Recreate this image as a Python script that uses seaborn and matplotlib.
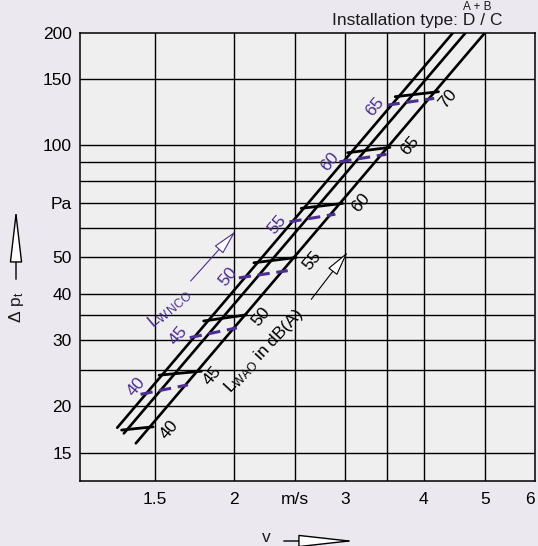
import matplotlib
matplotlib.use("Agg")
import matplotlib.pyplot as plt
from matplotlib.ticker import NullLocator, FixedLocator
import numpy as np
import pandas as pd
import seaborn as sns

# ---------------- data ----------------
# three characteristic lines (installation types)
line_ids = ["left", "left", "middle", "middle", "right", "right"]
line_v = [1.308, 4.45, 1.34, 4.66, 1.40, 5.0]
line_dp = [17.5, 200, 16.9, 200, 15.9, 200]

# L_WAO rungs (black, solid)
wa_levels = [40, 45, 50, 55, 60, 65, 70]
wa_v0 = [1.329, 1.524, 1.793, 2.153, 2.558, 3.030, 3.604]
wa_p0 = [17.25, 24.2, 33.8, 48.4, 67.7, 95.4, 134.8]
wa_v1 = [1.491, 1.778, 2.094, 2.512, 2.975, 3.535, 4.220]
wa_p1 = [17.6, 24.8, 35.1, 50.0, 69.8, 98.6, 139.0]
wa_lab_v = [1.584, 1.852, 2.214, 2.665, 3.185, 3.806, 4.372]
wa_lab_p = [17.25, 24.1, 34.8, 48.9, 70.0, 99.4, 132.9]

# L_WNCO rungs (purple, dashed)
nc_levels = [40, 45, 50, 55, 60, 65]
nc_v0 = [1.424, 1.704, 2.038, 2.451, 2.940, 3.505]
nc_p0 = [21.5, 30.5, 44.1, 62.3, 90.2, 128.0]
nc_v1 = [1.693, 2.024, 2.436, 2.897, 3.492, 4.154]
nc_p1 = [22.8, 32.4, 46.1, 65.3, 94.5, 133.4]
nc_lab_v = [1.400, 1.637, 1.956, 2.347, 2.845, 3.352]
nc_lab_p = [22.6, 30.8, 44.3, 61.1, 90.1, 126.5]

# axes
x_ticks = [1.5, 2, 2.5, 3, 4, 5, 6]
x_tick_labels = ["1.5", "2", "m/s", "3", "4", "5", "6"]
y_ticks = [15, 20, 30, 40, 50, 70, 100, 150, 200]
y_tick_labels = ["15", "20", "30", "40", "50", "Pa", "100", "150", "200"]
x_grid = [1.5, 2, 2.5, 3, 3.5, 4, 5]
y_grid = [15, 20, 25, 30, 35, 40, 50, 60, 70, 80, 90, 100, 150]

PURPLE = "#4B2E8F"
FS = 12.5

# ---------------- figure ----------------
sns.set_theme(style="white")
plt.rcParams["font.family"] = ["Liberation Sans", "DejaVu Sans"]
plt.rcParams["mathtext.fontset"] = "custom"
plt.rcParams["mathtext.rm"] = "Liberation Sans"
plt.rcParams["mathtext.it"] = "Liberation Sans"

fig = plt.figure(figsize=(5.38, 5.46), dpi=100, facecolor="#ECE8EF")
ax = fig.add_axes([80 / 538, 1 - 481 / 546, (535 - 80) / 538, (481 - 32.7) / 546])
ax.set_facecolor("#EFEFEF")
ax.set_xscale("log")
ax.set_yscale("log")
ax.set_xlim(1.142, 6.0)
ax.set_ylim(12.6, 200)

for gx in x_grid:
    ax.axvline(gx, color="black", lw=1.0, zorder=1)
for gy in y_grid:
    ax.axhline(gy, color="black", lw=1.0, zorder=1)

df_lines = pd.DataFrame({"id": line_ids, "v": line_v, "dp": line_dp})
sns.lineplot(data=df_lines, x="v", y="dp", units="id", estimator=None,
             color="black", lw=1.9, ax=ax, zorder=3)

df_wa = pd.DataFrame({
    "level": wa_levels * 2,
    "v": wa_v0 + wa_v1,
    "dp": wa_p0 + wa_p1,
})
sns.lineplot(data=df_wa, x="v", y="dp", units="level", estimator=None,
             color="black", lw=2.0, ax=ax, zorder=3)

df_nc = pd.DataFrame({
    "level": nc_levels * 2,
    "v": nc_v0 + nc_v1,
    "dp": nc_p0 + nc_p1,
})
n_before = len(ax.lines)
sns.lineplot(data=df_nc, x="v", y="dp", units="level", estimator=None,
             color=PURPLE, lw=2.2, ax=ax, zorder=4)
for ln in ax.lines[n_before:]:
    ln.set_dashes((4, 2.2))

for lvl, lv, lp in zip(wa_levels, wa_lab_v, wa_lab_p):
    ax.text(lv, lp, str(lvl), rotation=50, ha="center", va="center",
            fontsize=FS, color="black", zorder=5)
for lvl, lv, lp in zip(nc_levels, nc_lab_v, nc_lab_p):
    ax.text(lv, lp, str(lvl), rotation=50, ha="center", va="center",
            fontsize=FS, color=PURPLE, zorder=5)

# annotations
ax.text(1.584, 36.6, r"L$_{\mathrm{W\,NCO}}$", rotation=40, ha="center", va="center",
        fontsize=FS, color=PURPLE, zorder=5)
ax.annotate("", xy=(2.026, 59.5), xytext=(1.698, 42.7),
            arrowprops=dict(arrowstyle="-|>,head_length=1.3,head_width=0.3",
                            color=PURPLE, lw=0.8, fc="white"), zorder=5)
ax.text(2.229, 28.1, r"L$_{\mathrm{WAO}}$ in dB(A)", rotation=47, ha="center", va="center",
        fontsize=FS, color="black", zorder=5)
ax.annotate("", xy=(3.049, 52.4), xytext=(2.637, 38.1),
            arrowprops=dict(arrowstyle="-|>,head_length=1.3,head_width=0.3",
                            color="black", lw=0.8, fc="white"), zorder=5)

ax.xaxis.set_major_locator(FixedLocator(x_ticks))
ax.xaxis.set_minor_locator(NullLocator())
ax.set_xticklabels(x_tick_labels)
ax.get_xticklabels()[-1].set_horizontalalignment("right")
ax.yaxis.set_major_locator(FixedLocator(y_ticks))
ax.yaxis.set_minor_locator(NullLocator())
ax.set_yticklabels(y_tick_labels)
ax.tick_params(axis="both", length=0, labelsize=FS, colors="black")
ax.tick_params(axis="x", pad=8)
ax.tick_params(axis="y", pad=6)
ax.set_xlabel("")
ax.set_ylabel("")
for s in ax.spines.values():
    s.set_color("black")
    s.set_linewidth(1.1)

# titles and axis labels outside the axes
fig.text(503 / 538, 1 - 21 / 546, "Installation type: D / C", ha="right", va="center",
         fontsize=FS, color="#1a1a1a")
fig.text(477 / 538, 1 - 1 / 546, "A + B", ha="center", va="top",
         fontsize=FS * 0.68, color="#1a1a1a")

fig.text(16 / 538, 1 - 307 / 546, r"Δ p$_{\mathrm{t}}$", rotation=90, ha="center", va="center",
         fontsize=FS, color="#1a1a1a")
fig.patches.append(matplotlib.patches.FancyArrowPatch(
    (16 / 538, 1 - 282 / 546), (16 / 538, 1 - 206 / 546), transform=fig.transFigure,
    arrowstyle="-|>,head_length=34,head_width=4", mutation_scale=1,
    color="black", lw=1.0, fc="white"))

fig.text(266 / 538, 1 - 545 / 546, "v", ha="center", va="bottom", fontsize=FS, color="#1a1a1a")
fig.patches.append(matplotlib.patches.FancyArrowPatch(
    (281 / 538, 1 - 541 / 546), (358 / 538, 1 - 541 / 546), transform=fig.transFigure,
    arrowstyle="-|>,head_length=36,head_width=4", mutation_scale=1,
    color="black", lw=1.0, fc="white"))

fig.savefig("out.png", dpi=100, facecolor=fig.get_facecolor())
